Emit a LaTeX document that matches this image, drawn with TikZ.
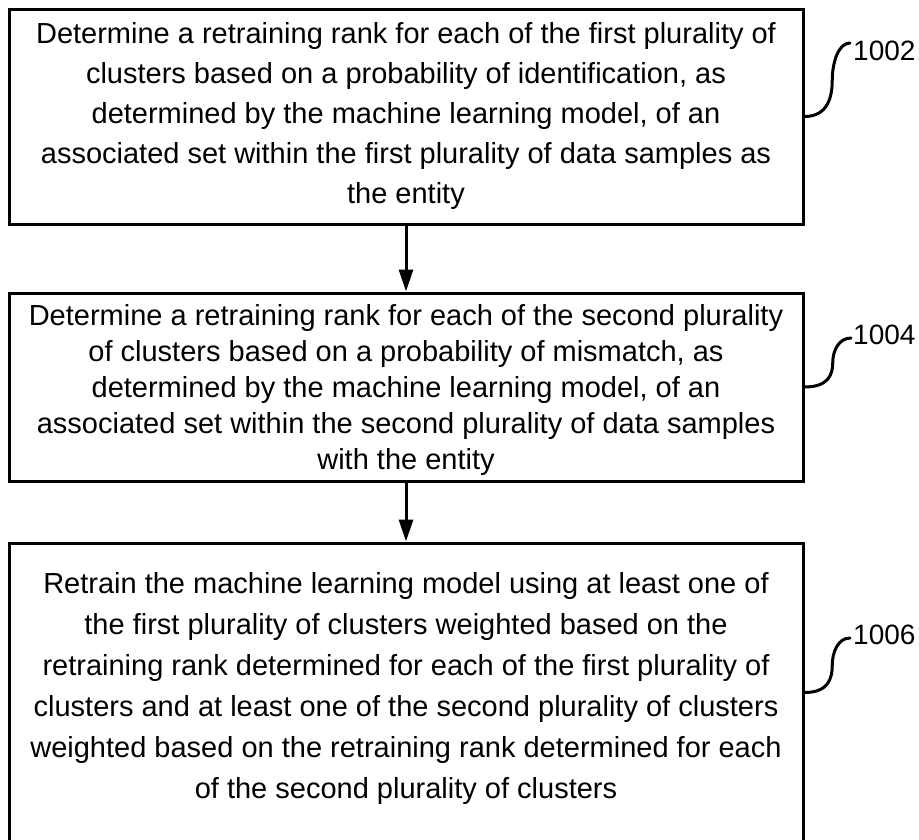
\documentclass[tikz,border=0pt]{standalone}
\usepackage{fontspec}
\setmainfont{Liberation Sans}
\usetikzlibrary{arrows.meta,calc}

\tikzset{
  stepbox/.style={draw, line width=3pt, minimum width=794pt, inner sep=0pt},
  steptext/.style={align=center, inner sep=0pt, font=\fontsize{29}{#1}\selectfont},
  flow/.style={line width=3pt, -{Triangle[length=22pt,width=14pt]}},
  lead/.style={line width=3pt, line cap=round},
  refnum/.style={anchor=west, inner sep=0pt, font=\fontsize{28}{30}\selectfont}
}

\begin{document}
\begin{tikzpicture}[x=1pt, y=-1pt]
  \useasboundingbox (0,0) rectangle (919,839);
  \clip (0,0) rectangle (919,839);

  % step boxes
  \node[stepbox, minimum height=215pt] (b1) at (406,116.5) {};
  \node[stepbox, minimum height=188pt] (b2) at (406,387) {};
  \node[stepbox, minimum height=299pt] (b3) at (406,692.5) {};

  % step texts
  \node[steptext=40] (t1) at (406,116) {Determine a retraining rank for each of the first plurality of\\
    clusters based on a probability of identification, as\\
    determined by the machine learning model, of an\\
    associated set within the first plurality of data samples as\\
    the entity};
  \node[steptext=36] (t2) at (406,390) {Determine a retraining rank for each of the second plurality\\
    of clusters based on a probability of mismatch, as\\
    determined by the machine learning model, of an\\
    associated set within the second plurality of data samples\\
    with the entity};
  \node[steptext=41] (t3) at (406,688) {Retrain the machine learning model using at least one of\\
    the first plurality of clusters weighted based on the\\
    retraining rank determined for each of the first plurality of\\
    clusters and at least one of the second plurality of clusters\\
    weighted based on the retraining rank determined for each\\
    of the second plurality of clusters};

  % flow arrows
  \draw[flow] (b1.south) -- (b2.north);
  \draw[flow] (b2.south) -- (b3.north);

  % reference numerals
  \node[refnum] (r1) at (853,51) {1002};
  \node[refnum] (r2) at (853,335) {1004};
  \node[refnum] (r3) at (853,635) {1006};

  % lead lines from boxes to numerals
  \draw[lead] (b1.east) .. controls +(24,0) and +(0,16) .. ($(b1.east)!.5!($(r1.west)+(-3,-8)$)+(5,0)$)
    .. controls +(0,-16) and +(-12,0) .. ($(r1.west)+(-3,-8)$);
  \draw[lead] (b2.east) .. controls +(24,0) and +(0,12) .. ($(b2.east)!.5!($(r2.west)+(-2,3)$)+(5,0)$)
    .. controls +(0,-12) and +(-12,0) .. ($(r2.west)+(-2,3)$);
  \draw[lead] (b3.east) .. controls +(24,0) and +(0,13) .. ($(b3.east)!.5!($(r3.west)+(-3,3)$)+(5,0)$)
    .. controls +(0,-13) and +(-12,0) .. ($(r3.west)+(-3,3)$);
\end{tikzpicture}
\end{document}
